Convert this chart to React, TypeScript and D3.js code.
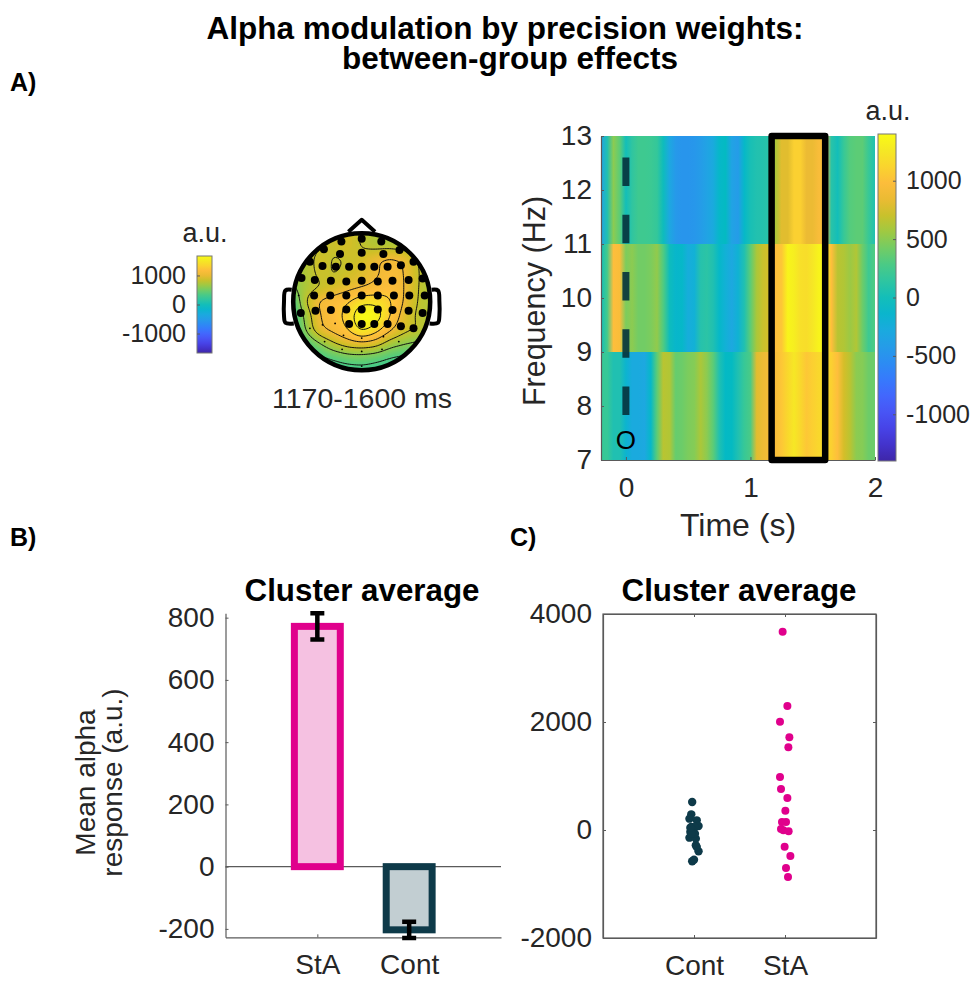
import React, { useRef, useEffect } from 'react';
import * as d3 from 'd3';

const FONT = '"Liberation Sans", Arial, sans-serif';
const INK = '#262626';
const PINK = '#e0008c';
const PINK_LIGHT = '#f5c1e1';
const DARK = '#0e3a49';
const DARK_LIGHT = '#c2ced2';

// parula, every third entry of the 64 step table
const parulaStops = [
  [0.2422, 0.1504, 0.6603], [0.2647, 0.1978, 0.7952], [0.2783, 0.2559, 0.8991], [0.281, 0.3228, 0.9579],
  [0.2699, 0.3892, 0.9906], [0.2206, 0.4603, 0.9973], [0.1786, 0.5289, 0.9682], [0.154, 0.5902, 0.9218],
  [0.1248, 0.6459, 0.8883], [0.0689, 0.6948, 0.8394], [0.0067, 0.7312, 0.766], [0.1408, 0.7584, 0.6842],
  [0.2161, 0.7843, 0.5923], [0.3406, 0.8008, 0.4789], [0.5044, 0.7993, 0.348], [0.672, 0.7793, 0.2227],
  [0.8203, 0.7498, 0.1535], [0.9393, 0.7288, 0.21], [0.9956, 0.7434, 0.2371], [0.9786, 0.8386, 0.1766],
  [0.9597, 0.9135, 0.1423], [0.9769, 0.9839, 0.0805],
];
const parula = d3.piecewise(
  d3.interpolateRgb,
  parulaStops.map(c => d3.rgb(c[0] * 255, c[1] * 255, c[2] * 255).formatRgb())
);

// Time-frequency map, one value every 50 ms from -0.2 s to 2 s
const bandEdges = [[11, 13], [9, 11], [7, 9]];
const band11to13 = [-350, 50, 500, 350, 0, 150, 230, 230, 220, 180, -20, -300, -450, -480, -480, -470, -420, -350, -280, -100, -60, -350, -420, -100, 20, 60, 70, 100, 600, 800, 800, 1100, 1100, 850, 850, 950, 950, 100, 0, 200, 320, 350, 350, 200, 50];
const band9to11 = [0, 250, 1000, 950, 450, 500, 420, 420, 450, 520, 300, -20, -120, -100, -250, -200, 80, 120, 50, -100, -200, -300, -180, 50, 350, 600, 700, 750, 1000, 1050, 1350, 1300, 1200, 1180, 1250, 1350, 1350, 1000, 650, 620, 550, 620, 400, 220, 300];
const band7to9 = [200, 200, 50, 50, -150, -280, -280, -300, -100, 350, 650, 620, 380, 400, 450, 480, 600, 500, 350, 50, -80, -60, 50, 200, 280, 800, 850, 900, 950, 1050, 1150, 1250, 1150, 1050, 1100, 1150, 1150, 1100, 1000, 750, 650, 500, 480, 400, 400];
const bandValues = [band11to13, band9to11, band7to9];
const freqTicks = [7, 8, 9, 10, 11, 12, 13];
const timeTicks = [0, 1, 2];
const clusterWindow = [1.17, 1.6];
const colorTicksLarge = [-1000, -500, 0, 500, 1000];
const colorTicksSmall = [-1000, 0, 1000];
const mapLimit = 1400;
const topoLimit = 1670;

// Scalp map values on a 13 x 13 grid, head units -1.2 .. 1.2
const topoGrid = [
  [690, 690, 690, 690, 690, 690, 690, 690, 690, 690, 690, 690, 690],
  [710, 710, 710, 760, 830, 920, 810, 740, 700, 690, 690, 690, 690],
  [710, 710, 730, 810, 870, 920, 810, 740, 740, 710, 700, 690, 690],
  [710, 710, 730, 920, 800, 840, 900, 1050, 1120, 1060, 810, 730, 700],
  [620, 670, 740, 880, 810, 870, 940, 1020, 1140, 1080, 830, 740, 700],
  [450, 570, 730, 810, 900, 990, 1040, 1110, 1200, 1080, 820, 740, 700],
  [210, 270, 860, 1110, 1190, 1270, 1460, 1460, 1330, 1050, 810, 740, 710],
  [150, 230, 670, 1070, 1190, 1370, 1750, 1700, 1310, 950, 790, 740, 710],
  [150, 230, 620, 1040, 1140, 1290, 1620, 1400, 1110, 900, 830, 740, 670],
  [120, 180, 360, 570, 810, 950, 990, 940, 710, 620, 560, 480, 420],
  [120, 120, 210, 330, 400, 480, 490, 440, 360, 320, 310, 270, 240],
  [100, 100, 140, 200, 240, 260, 290, 260, 240, 200, 200, 150, 120],
  [100, 100, 100, 100, 100, 100, 100, 100, 100, 100, 100, 100, 100],
];
const topoLevels = [155, 380, 605, 830, 1060, 1285, 1510];

// Electrodes in head units, big ones are in the cluster
const clusterSites = [
  [-0.29, -0.86], [0, -0.9], [0.28, -0.86],
  [-0.54, -0.75], [-0.31, -0.68], [0, -0.7], [0.31, -0.68], [0.54, -0.74],
  [-0.74, -0.57], [-0.56, -0.51], [-0.37, -0.5], [-0.18, -0.5], [0, -0.5], [0.18, -0.5], [0.37, -0.5], [0.56, -0.52], [0.74, -0.57],
  [-0.86, -0.34], [-0.67, -0.31], [-0.44, -0.3], [-0.22, -0.29], [0, -0.3], [0.23, -0.29], [0.44, -0.3], [0.67, -0.31], [0.87, -0.33],
  [-0.68, -0.09], [-0.45, -0.09], [-0.22, -0.09], [0, -0.09], [0.23, -0.09], [0.46, -0.09], [0.68, -0.09], [0.9, -0.09],
  [-0.87, 0.16], [-0.66, 0.13], [-0.44, 0.12], [-0.22, 0.11], [0, 0.11], [0.23, 0.11], [0.44, 0.12], [0.67, 0.13], [0.87, 0.16],
  [-0.18, 0.32], [0, 0.32], [0.18, 0.32], [0.37, 0.32], [0.56, 0.35], [0.74, 0.38],
];
const otherSites = [
  [-0.9, -0.09], [-0.74, 0.38], [-0.56, 0.33], [-0.38, 0.31], [-0.53, 0.57], [-0.28, 0.68], [0, 0.71], [0.29, 0.68],
  [0.53, 0.57], [0.31, 0.5], [0, 0.92], [-0.26, 0.48], [0, 0.52],
];

// Panel B
const barGroups = ['StA', 'Cont'];
const barMeans = [772, -203];
const barErrors = [42, 26];
const barTicks = [-200, 0, 200, 400, 600, 800];

// Panel C
const scatterGroups = ['Cont', 'StA'];
const contValues = [519, 290, 210, 179, 74, 56, 56, -37, -6, -142, -160, -68, -284, -395, -580, -550, -68, 43, -315];
const contJitter = [-0.02, -0.03, -0.05, 0.03, 0.05, -0.03, 0.01, -0.04, -0.01, -0.05, 0.02, 0.01, 0.02, 0.05, -0.02, 0, -0.03, -0.04, 0.03];
const staValues = [3673, 2296, 2006, 1716, 1531, 981, 759, 593, 358, 148, 148, -6, 19, -25, -309, -481, -704, -870];
const staJitter = [-0.026, 0.026, -0.055, 0.048, 0.037, -0.055, -0.044, 0.026, 0.004, -0.033, 0.011, -0.018, -0.044, 0.04, -0.004, 0.059, 0.011, 0.033];
const scatterTicks = [-2000, 0, 2000, 4000];

const App = () => {
  const svgRef = useRef<SVGSVGElement>(null);

  useEffect(() => {
    const svg = d3.select(svgRef.current);
    svg.selectAll('*').remove();
    const defs = svg.append('defs');

    const colorOf = d3.scaleSequential(parula).domain([-mapLimit, mapLimit]);
    const topoColor = d3.scaleSequential(parula).domain([-topoLimit, topoLimit]);
    const plain = d => String(d); // hyphen, not the d3 minus sign

    const label = (x, y, str, size, opts: any = {}) =>
      svg.append('text')
        .attr('x', x).attr('y', y)
        .attr('text-anchor', opts.anchor || 'middle')
        .attr('font-size', size)
        .attr('font-weight', opts.bold ? 'bold' : 'normal')
        .attr('fill', opts.bold ? '#000' : opts.fill || INK)
        .attr('transform', opts.rotate ? `rotate(-90,${x},${y})` : null)
        .text(str);

    const styleAxis = (g, size) => {
      g.selectAll('.domain').attr('stroke', '#5a5a5a').attr('stroke-width', 1.2);
      g.selectAll('.tick line').attr('stroke', '#5a5a5a').attr('stroke-width', 1);
      g.selectAll('.tick text').attr('fill', INK).attr('font-size', size).attr('font-family', FONT);
    };

    // Title is one text with two lines
    const title = svg.append('text')
      .attr('text-anchor', 'middle').attr('font-size', 31.5).attr('font-weight', 'bold').attr('fill', '#000');
    title.append('tspan').attr('x', 505).attr('y', 39).text('Alpha modulation by precision weights:');
    title.append('tspan').attr('x', 510).attr('y', 69).text('between-group effects');

    label(10, 91, 'A)', 25, { anchor: 'start', bold: true });
    label(10, 546, 'B)', 25, { anchor: 'start', bold: true });
    label(510, 546, 'C)', 25, { anchor: 'start', bold: true });

    // Color bars
    const drawColorBar = (id, x0, x1, yTop, yBottom, limit, ticks, tickSide, fontSize) => {
      const grad = defs.append('linearGradient').attr('id', id)
        .attr('x1', 0).attr('x2', 0).attr('y1', 1).attr('y2', 0);
      d3.range(0, 1.001, 0.05).forEach(t => {
        grad.append('stop').attr('offset', t).attr('stop-color', parula(t));
      });
      const y = d3.scaleLinear().domain([-limit, limit]).range([yBottom, yTop]);
      svg.append('rect').attr('x', x0).attr('y', yTop).attr('width', x1 - x0).attr('height', yBottom - yTop)
        .attr('fill', `url(#${id})`).attr('stroke', '#777').attr('stroke-width', 1);
      const axis = tickSide === 'right' ? d3.axisRight(y) : d3.axisLeft(y);
      const g = svg.append('g')
        .attr('transform', `translate(${tickSide === 'right' ? x1 : x0},0)`)
        .call(axis.tickValues(ticks).tickFormat(plain).tickSizeInner(-3).tickSizeOuter(0).tickPadding(tickSide === 'right' ? 10 : 11));
      styleAxis(g, fontSize);
      g.select('.domain').remove();
    };

    // Time-frequency map
    const xTime = d3.scaleLinear().domain([-0.2, 2]).range([601, 875]);
    const yFreq = d3.scaleLinear().domain([7, 13]).range([460, 136]);
    bandValues.forEach((vals, b) => {
      const id = `band${b}`;
      const grad = defs.append('linearGradient').attr('id', id);
      vals.forEach((v, i) => {
        grad.append('stop').attr('offset', i / (vals.length - 1)).attr('stop-color', colorOf(v));
      });
      svg.append('rect')
        .attr('x', xTime(-0.2))
        .attr('y', yFreq(bandEdges[b][1]))
        .attr('width', xTime(2) - xTime(-0.2))
        .attr('height', yFreq(bandEdges[b][0]) - yFreq(bandEdges[b][1]))
        .attr('fill', `url(#${id})`);
    });
    const gFreq = svg.append('g').attr('transform', `translate(${xTime(-0.2)},0)`)
      .call(d3.axisLeft(yFreq).tickValues(freqTicks).tickFormat(plain).tickSizeInner(-3).tickSizeOuter(0).tickPadding(9));
    styleAxis(gFreq, 28);
    const gTime = svg.append('g').attr('transform', `translate(0,${yFreq(7)})`)
      .call(d3.axisBottom(xTime).tickValues(timeTicks).tickFormat(plain).tickSizeInner(-3).tickSizeOuter(0).tickPadding(17));
    styleAxis(gTime, 28);

    // stimulus onset and cluster window
    svg.append('line')
      .attr('x1', xTime(0)).attr('x2', xTime(0))
      .attr('y1', yFreq(12.6)).attr('y2', yFreq(7.83))
      .attr('stroke', '#06323c').attr('stroke-opacity', 0.9).attr('stroke-width', 7)
      .attr('stroke-dasharray', '28.5 28.7');
    label(xTime(0), 448.5, 'O', 26, { fill: '#000' });
    svg.append('rect')
      .attr('x', xTime(clusterWindow[0])).attr('y', yFreq(13))
      .attr('width', xTime(clusterWindow[1]) - xTime(clusterWindow[0]))
      .attr('height', yFreq(7) - yFreq(13))
      .attr('fill', 'none').attr('stroke', '#000').attr('stroke-width', 6.5).attr('stroke-linejoin', 'round');

    label(545, 301, 'Frequency (Hz)', 30.5, { rotate: true });
    label(738, 536, 'Time (s)', 32);
    drawColorBar('cbLarge', 878, 896, 134, 461, mapLimit, colorTicksLarge, 'right', 25);
    label(888, 120, 'a.u.', 27);

    // Scalp map
    drawColorBar('cbSmall', 197, 212, 256, 353, topoLimit, colorTicksSmall, 'left', 25);
    label(205, 242, 'a.u.', 27);
    label(362, 408, '1170-1600 ms', 28.5);

    const headX = d3.scaleLinear().domain([-1, 1]).range([361.7 - 70, 361.7 + 70]);
    const headY = d3.scaleLinear().domain([-1, 1]).range([301.7 - 70, 301.7 + 70]);
    const factor = 8;
    const n = topoGrid.length;
    const m = (n - 1) * factor + 1;
    const fine = new Float64Array(m * m);
    for (let r = 0; r < m; r++) {
      for (let c = 0; c < m; c++) {
        const ry = r / factor, rx = c / factor;
        const r0 = Math.min(Math.floor(ry), n - 2), c0 = Math.min(Math.floor(rx), n - 2);
        const fy = ry - r0, fx = rx - c0;
        fine[r * m + c] =
          topoGrid[r0][c0] * (1 - fx) * (1 - fy) + topoGrid[r0][c0 + 1] * fx * (1 - fy) +
          topoGrid[r0 + 1][c0] * (1 - fx) * fy + topoGrid[r0 + 1][c0 + 1] * fx * fy;
      }
    }
    d3.blur2({ data: fine, width: m, height: m }, 2);

    defs.append('clipPath').attr('id', 'headClip').append('circle')
      .attr('cx', headX(0)).attr('cy', headY(0)).attr('r', 69);
    const toPx = d3.geoTransform({
      point(x, y) {
        const u = -1.2 + ((x - 0.5) / (m - 1)) * 2.4;
        const v = -1.2 + ((y - 0.5) / (m - 1)) * 2.4;
        this.stream.point(headX(u), headY(v));
      },
    });
    const path = d3.geoPath(toPx);
    const gTopo = svg.append('g').attr('clip-path', 'url(#headClip)');
    const fills = d3.range(-100, 1800, 20);
    gTopo.append('circle').attr('cx', headX(0)).attr('cy', headY(0)).attr('r', 70).attr('fill', topoColor(100));
    const bands = d3.contours().size([m, m]).thresholds(fills)(Array.from(fine));
    gTopo.selectAll('path.fill').data(bands).enter().append('path')
      .attr('class', 'fill').attr('d', path).attr('fill', d => topoColor(d.value));
    const lines = d3.contours().size([m, m]).thresholds(topoLevels)(Array.from(fine));
    gTopo.selectAll('path.iso').data(lines).enter().append('path')
      .attr('class', 'iso').attr('d', path).attr('fill', 'none').attr('stroke', '#111').attr('stroke-width', 1);

    const headLine = d3.line().x(d => headX(d[0])).y(d => headY(d[1]));
    const earCurve = d3.line().x(d => headX(d[0])).y(d => headY(d[1])).curve(d3.curveCatmullRom);
    svg.append('circle').attr('cx', headX(0)).attr('cy', headY(0)).attr('r', 68.5)
      .attr('fill', 'none').attr('stroke', '#000').attr('stroke-width', 4.5);
    svg.append('path').attr('d', headLine([[-0.19, -1.0], [0, -1.17], [0.19, -1.0]]))
      .attr('fill', 'none').attr('stroke', '#000').attr('stroke-width', 4).attr('stroke-linejoin', 'round');
    [-1, 1].forEach(s => {
      svg.append('path')
        .attr('d', earCurve([[s * 1.0, -0.17], [s * 1.09, -0.16], [s * 1.11, 0], [s * 1.11, 0.2], [s * 1.09, 0.3], [s * 0.97, 0.31]]))
        .attr('fill', 'none').attr('stroke', '#000').attr('stroke-width', 4);
    });
    svg.selectAll('circle.site').data(clusterSites).enter().append('circle')
      .attr('class', 'site').attr('cx', d => headX(d[0])).attr('cy', d => headY(d[1])).attr('r', 4).attr('fill', '#000');
    svg.selectAll('circle.minor').data(otherSites).enter().append('circle')
      .attr('class', 'minor').attr('cx', d => headX(d[0])).attr('cy', d => headY(d[1])).attr('r', 0.9).attr('fill', '#000');

    // Panel B: bars
    const xBar = d3.scaleLinear().domain([0, 3]).range([225.5, 501]);
    const yBar = d3.scaleLinear().domain([-227, 814]).range([937.3, 613.3]);
    const barColors = [PINK, DARK];
    const barFills = [PINK_LIGHT, DARK_LIGHT];
    svg.append('line').attr('x1', xBar(0)).attr('x2', xBar(3)).attr('y1', yBar(0)).attr('y2', yBar(0))
      .attr('stroke', '#5a5a5a').attr('stroke-width', 1.2);
    const gBarX = svg.append('g').attr('transform', `translate(0,${yBar(-227)})`)
      .call(d3.axisBottom(xBar).tickValues([1, 2]).tickFormat((d, i) => barGroups[i]).tickSizeInner(-3).tickSizeOuter(0).tickPadding(17));
    styleAxis(gBarX, 28);
    const gBarY = svg.append('g').attr('transform', `translate(${xBar(0)},0)`)
      .call(d3.axisLeft(yBar).tickValues(barTicks).tickFormat(plain).tickSizeInner(-3).tickSizeOuter(0).tickPadding(11));
    styleAxis(gBarY, 28);
    barMeans.forEach((v, i) => {
      const cx = xBar(i + 1);
      svg.append('rect')
        .attr('x', xBar(i + 0.75)).attr('width', xBar(i + 1.25) - xBar(i + 0.75))
        .attr('y', yBar(Math.max(v, 0))).attr('height', Math.abs(yBar(v) - yBar(0)))
        .attr('fill', barFills[i]).attr('stroke', barColors[i]).attr('stroke-width', 7);
      const top = yBar(v + barErrors[i]), bottom = yBar(v - barErrors[i]);
      svg.append('path')
        .attr('d', `M${cx},${top}V${bottom}M${cx - 7},${top}H${cx + 7}M${cx - 7},${bottom}H${cx + 7}`)
        .attr('fill', 'none').attr('stroke', '#000').attr('stroke-width', 4.5);
    });
    label(362, 601, 'Cluster average', 31.3, { bold: true });
    label(95, 782.5, 'Mean alpha', 28, { rotate: true });
    label(122, 782.5, 'response (a.u.)', 28, { rotate: true });

    // Panel C: scatter
    const xDot = d3.scaleLinear().domain([0, 3]).range([603, 876]);
    const yDot = d3.scaleLinear().domain([-2000, 4000]).range([938, 614]);
    svg.append('rect').attr('x', xDot(0)).attr('y', yDot(4000))
      .attr('width', xDot(3) - xDot(0)).attr('height', yDot(-2000) - yDot(4000))
      .attr('fill', 'none').attr('stroke', '#5a5a5a').attr('stroke-width', 1.2);
    const gDotX = svg.append('g').attr('transform', `translate(0,${yDot(-2000)})`)
      .call(d3.axisBottom(xDot).tickValues([1, 2]).tickFormat((d, i) => scatterGroups[i]).tickSizeInner(-3).tickSizeOuter(0).tickPadding(17));
    styleAxis(gDotX, 28);
    const gDotY = svg.append('g').attr('transform', `translate(${xDot(0)},0)`)
      .call(d3.axisLeft(yDot).tickValues(scatterTicks).tickFormat(plain).tickSizeInner(-3).tickSizeOuter(0).tickPadding(11));
    styleAxis(gDotY, 28);
    const gDotR = svg.append('g').attr('transform', `translate(${xDot(3)},0)`)
      .call(d3.axisRight(yDot).tickValues(scatterTicks).tickFormat('').tickSizeInner(-3).tickSizeOuter(0));
    styleAxis(gDotR, 1);
    const gDotT = svg.append('g').attr('transform', `translate(0,${yDot(4000)})`)
      .call(d3.axisTop(xDot).tickValues([1, 2]).tickFormat('').tickSizeInner(-3).tickSizeOuter(0));
    styleAxis(gDotT, 1);
    contValues.forEach((v, i) => {
      svg.append('circle').attr('cx', xDot(1 + contJitter[i])).attr('cy', yDot(v)).attr('r', 4.2).attr('fill', DARK);
    });
    staValues.forEach((v, i) => {
      svg.append('circle').attr('cx', xDot(2 + staJitter[i])).attr('cy', yDot(v)).attr('r', 4).attr('fill', PINK);
    });
    label(739, 601, 'Cluster average', 31.3, { bold: true });
  }, []);

  return (
    <svg
      ref={svgRef}
      width={973}
      height={981}
      style={{ position: 'absolute', left: 0, top: 0, background: '#fff', fontFamily: FONT }}
    />
  );
};

export default App;
